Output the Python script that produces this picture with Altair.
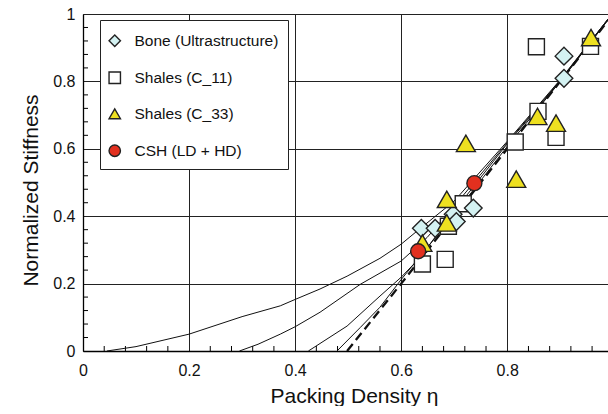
import altair as alt
import pandas as pd

# ---- data ----
series_names = ["Bone (Ultrastructure)", "Shales (C_11)", "Shales (C_33)", "CSH (LD + HD)"]

bone_x = [0.638, 0.664, 0.698, 0.704, 0.736, 0.907, 0.907]
bone_y = [0.364, 0.364, 0.406, 0.384, 0.424, 0.809, 0.875]

c11_x = [0.640, 0.683, 0.689, 0.717, 0.815, 0.858, 0.855, 0.892, 0.957]
c11_y = [0.258, 0.272, 0.370, 0.437, 0.620, 0.711, 0.903, 0.634, 0.904]

c33_x = [0.640, 0.686, 0.686, 0.722, 0.817, 0.857, 0.892, 0.958]
c33_y = [0.320, 0.380, 0.450, 0.616, 0.510, 0.696, 0.676, 0.930]

csh_x = [0.632, 0.738]
csh_y = [0.296, 0.498]

curve_a_x = [0.045, 0.10, 0.20, 0.30, 0.372, 0.40, 0.447, 0.498, 0.56, 0.60, 0.63, 0.70, 0.80, 0.90, 0.99]
curve_a_y = [0.0, 0.013, 0.05, 0.102, 0.134, 0.153, 0.184, 0.222, 0.275, 0.317, 0.356, 0.445, 0.622, 0.805, 0.985]
curve_b_x = [0.295, 0.33, 0.372, 0.40, 0.447, 0.523, 0.60, 0.649, 0.70, 0.80, 0.90, 0.99]
curve_b_y = [0.0, 0.02, 0.05, 0.072, 0.115, 0.198, 0.267, 0.337, 0.43, 0.618, 0.803, 0.985]
curve_c_x = [0.425, 0.498, 0.56, 0.60, 0.636, 0.70, 0.80, 0.90, 0.99]
curve_c_y = [0.0, 0.074, 0.163, 0.219, 0.278, 0.415, 0.615, 0.80, 0.983]
curve_d_x = [0.479, 0.523, 0.56, 0.60, 0.70, 0.80, 0.90, 0.99]
curve_d_y = [0.0, 0.07, 0.13, 0.212, 0.405, 0.607, 0.80, 0.982]
dashed_x = [0.498, 0.60, 0.70, 0.80, 0.90, 0.99]
dashed_y = [0.0, 0.20, 0.40, 0.60, 0.80, 0.98]

major_ticks = [0, 0.2, 0.4, 0.6, 0.8, 1.0]
minor_x = [0.04, 0.08, 0.12, 0.16, 0.24, 0.28, 0.32, 0.36, 0.44, 0.48, 0.52, 0.56,
           0.64, 0.68, 0.72, 0.76, 0.84, 0.88, 0.92, 0.96]
minor_y = minor_x

# ---- tables ----
pts = []
for name, xs, ys in [(series_names[1], c11_x, c11_y), (series_names[0], bone_x, bone_y),
                     (series_names[2], c33_x, c33_y), (series_names[3], csh_x, csh_y)]:
    for a, b in zip(xs, ys):
        pts.append({"series": name, "eta": a, "stiff": b})
pts_df = pd.DataFrame(pts)

curves = []
for cid, xs, ys in [("a", curve_a_x, curve_a_y), ("b", curve_b_x, curve_b_y),
                    ("c", curve_c_x, curve_c_y), ("d", curve_d_x, curve_d_y)]:
    for i, (a, b) in enumerate(zip(xs, ys)):
        curves.append({"curve": cid, "order": i, "eta": a, "stiff": b})
curves_df = pd.DataFrame(curves)
dashed_df = pd.DataFrame({"eta": dashed_x, "stiff": dashed_y})
minor_x_df = pd.DataFrame({"v": minor_x})
minor_y_df = pd.DataFrame({"v": minor_y})

FONT = "Liberation Sans"
xscale = alt.Scale(domain=[0, 0.99], nice=False, zero=False)
yscale = alt.Scale(domain=[0, 1], nice=False)

xaxis = alt.Axis(title="Packing Density η", values=major_ticks, format="~g",
                 labelFlush=False, tickSize=0, labelPadding=11, titlePadding=7,
                 titleX=271,
                 grid=True, gridColor="#222", gridWidth=1, domainColor="#000",
                 domainWidth=1.3, labelFontSize=16, titleFontSize=21,
                 labelColor="#111", titleColor="#111", labelFont=FONT, titleFont=FONT,
                 titleFontWeight="normal")
yaxis = alt.Axis(title="Normalized Stiffness", values=major_ticks, format="~g",
                 tickSize=0, labelPadding=8, titlePadding=11, titleY=176,
                 grid=True, gridColor="#222", gridWidth=1, domainColor="#000",
                 domainWidth=1.3, labelFontSize=16, titleFontSize=21,
                 labelColor="#111", titleColor="#111", labelFont=FONT, titleFont=FONT,
                 titleFontWeight="normal")

base_x = alt.X("eta:Q", scale=xscale, axis=xaxis)
base_y = alt.Y("stiff:Q", scale=yscale, axis=yaxis)

lines = alt.Chart(curves_df).mark_line(color="#111", strokeWidth=1, clip=True).encode(
    x=base_x, y=base_y, detail="curve:N", order="order:Q")

dashed = alt.Chart(dashed_df).mark_line(color="#111", strokeWidth=2.3, strokeDash=[9, 5],
                                        clip=True).encode(
    x=alt.X("eta:Q", scale=xscale), y=alt.Y("stiff:Q", scale=yscale))

xticks = alt.Chart(minor_x_df).mark_rule(color="#000", strokeWidth=1).encode(
    x=alt.X("v:Q", scale=xscale), y=alt.value(337), y2=alt.value(332))
yticks = alt.Chart(minor_y_df).mark_rule(color="#000", strokeWidth=1).encode(
    y=alt.Y("v:Q", scale=yscale), x=alt.value(0), x2=alt.value(5))

legend = alt.Legend(title=" ", titleFontSize=1, titlePadding=3,
                    orient="none", legendX=17, legendY=6,
                    strokeColor="#222", fillColor="white", padding=9,
                    rowPadding=19, symbolSize=130, symbolStrokeWidth=1.4,
                    symbolStrokeColor="#222", labelFontSize=15.5,
                    labelFont=FONT, labelColor="#111", labelOffset=12,
                    symbolOffset=-2)

shape_enc = alt.Shape("series:N", scale=alt.Scale(domain=series_names,
                      range=["diamond", "square", "triangle-up", "circle"]), legend=legend)
fill_enc = alt.Fill("series:N", scale=alt.Scale(domain=series_names,
                    range=["#d4f2f2", "#ffffff", "#eee020", "#e2301f"]), legend=legend)
stroke_enc = alt.Stroke("series:N", scale=alt.Scale(domain=series_names,
                        range=["#222222", "#222222", "#222222", "#222222"]), legend=legend)


def point_layer(name, size):
    return alt.Chart(pts_df).transform_filter(alt.datum.series == name).mark_point(
        filled=True, opacity=1, strokeWidth=1.4, size=size).encode(
        x=alt.X("eta:Q", scale=xscale),
        y=alt.Y("stiff:Q", scale=yscale),
        shape=shape_enc, fill=fill_enc, stroke=stroke_enc)


p_sq = point_layer(series_names[1], 256)
p_di = point_layer(series_names[0], 310)
p_tr = point_layer(series_names[2], 360)
p_ci = point_layer(series_names[3], 225)

chart = alt.layer(xticks, yticks, lines, dashed, p_sq, p_di, p_tr, p_ci).properties(
    width=525, height=337,
    padding={"left": 20, "top": 6, "right": 0, "bottom": 0},
).configure_view(stroke=None).configure(font=FONT)

chart.save("out.html", embed_options={"renderer": "svg", "actions": False})
